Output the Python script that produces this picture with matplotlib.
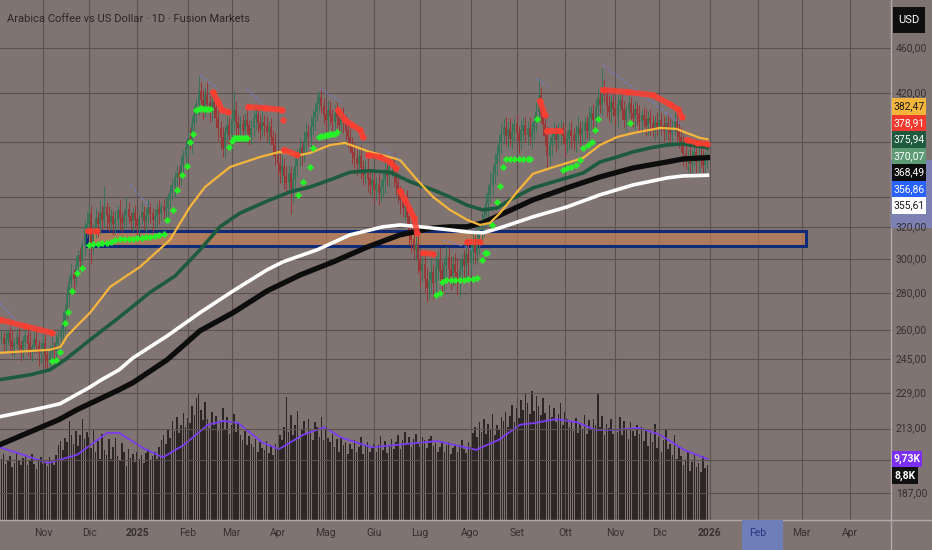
import numpy as np
import pandas as pd
import matplotlib
matplotlib.use("Agg")
import matplotlib.pyplot as plt
from matplotlib import font_manager
from matplotlib.patches import Rectangle
from matplotlib.lines import Line2D
from matplotlib.transforms import blended_transform_factory

OUTPUT = "out.png"
W, H = 932, 550
BG = "#807473"
GRID = "#5c5151"
TEXT = "#352f2f"
SEP = "#b3a9a9"

installed = {f.name for f in font_manager.fontManager.ttflist}
FONT = "Liberation Sans Narrow" if "Liberation Sans Narrow" in installed else "Roboto"
plt.rcParams["font.family"] = [FONT, "DejaVu Sans"]

TITLE = "Arabica Coffee vs US Dollar · 1D · Fusion Markets"
START = "2024-10-07"
AXIS_END = "2026-04-30"

# daily closes (USD), one per trading day from START
closes = [
    256, 253, 255, 258, 254, 251, 253, 256, 252, 250,
    254, 257, 253, 249, 251, 255, 252, 248, 250, 253,
    247, 244, 248, 251, 249, 253, 256, 259, 264, 270,
    279, 286, 291, 288, 296, 302, 299, 309, 318, 322,
    329, 310, 318, 326, 322, 329, 325, 333, 328, 323,
    327, 322, 325, 331, 326, 323, 328, 332, 327, 324,
    329, 325, 321, 326, 330, 324, 328, 333, 329, 325,
    327, 332, 329, 334, 331, 333, 339, 343, 348, 354,
    357, 354, 363, 370, 376, 383, 380, 395, 402, 410,
    421, 414, 407, 418, 411, 404, 412, 408, 399, 391,
    384, 376, 388, 393, 386, 398, 405, 396, 391, 394,
    389, 397, 393, 386, 391, 399, 402, 395, 390, 396,
    393, 388, 392, 384, 378, 370, 364, 358, 362, 355,
    350, 357, 346, 353, 362, 368, 375, 372, 381, 388,
    384, 392, 399, 404, 411, 416, 409, 402, 398, 405,
    401, 396, 403, 399, 394, 400, 396, 389, 384, 378,
    372, 368, 364, 369, 361, 356, 360, 353, 349, 352,
    345, 349, 343, 347, 352, 358, 355, 362, 364, 356,
    350, 343, 338, 333, 336, 327, 318, 312, 306, 309,
    300, 293, 297, 288, 283, 287, 292, 286, 295, 299,
    293, 288, 296, 301, 294, 290, 297, 292, 287, 294,
    299, 296, 303, 298, 305, 309, 304, 312, 318, 322,
    328, 336, 342, 349, 357, 364, 371, 380, 386, 392,
    385, 390, 383, 388, 394, 387, 381, 389, 393, 386,
    391, 384, 389, 396, 404, 418, 402, 394, 385, 370,
    378, 384, 388, 382, 386, 391, 385, 379, 383, 389,
    385, 381, 387, 392, 386, 390, 395, 389, 399, 403,
    398, 408, 415, 410, 424, 418, 409, 404, 412, 407,
    401, 410, 414, 406, 398, 405, 411, 403, 399, 406,
    402, 396, 401, 398, 393, 399, 395, 390, 396, 392,
    397, 393, 389, 395, 391, 387, 392, 396, 388, 384,
    380, 371, 366, 369, 364, 368, 372, 365, 370, 367,
    363, 368, 370.07,
]

# wick length above / below the candle body
hi_ext = [
    4, 3, 5, 2, 4, 6, 3, 4, 5, 3,
    3, 5, 4, 6, 2, 4, 5, 3, 4, 6,
    5, 3, 4, 6, 3, 5, 4, 3, 6, 4,
    5, 4, 7, 3, 6, 4, 5, 3, 6, 8,
    6, 5, 4, 7, 5, 9, 6, 15, 4, 6,
    5, 4, 6, 3, 7, 5, 4, 8, 5, 3,
    4, 6, 5, 3, 7, 4, 5, 6, 3, 4,
    5, 4, 6, 3, 5, 7, 4, 6, 5, 4,
    6, 5, 7, 4, 6, 5, 8, 6, 7, 5,
    14, 8, 9, 6, 11, 7, 6, 9, 8, 7,
    6, 8, 5, 9, 7, 6, 17, 8, 6, 7,
    8, 6, 9, 5, 7, 10, 6, 8, 7, 9,
    6, 8, 5, 7, 6, 9, 5, 7, 8, 6,
    7, 6, 5, 8, 6, 7, 9, 6, 8, 7,
    6, 9, 7, 8, 10, 6, 8, 7, 6, 9,
    8, 6, 7, 9, 5, 7, 8, 6, 9, 7,
    6, 8, 7, 5, 9, 6, 7, 8, 5, 6,
    7, 5, 8, 6, 7, 9, 6, 7, 5, 8,
    6, 7, 5, 8, 6, 9, 7, 5, 6, 8,
    7, 6, 8, 5, 7, 6, 9, 5, 7, 6,
    8, 6, 5, 7, 6, 8, 5, 7, 9, 6,
    5, 7, 6, 8, 5, 7, 6, 9, 7, 8,
    6, 8, 7, 9, 6, 8, 7, 6, 9, 7,
    8, 6, 9, 7, 5, 8, 6, 9, 7, 8,
    6, 9, 7, 5, 8, 15, 7, 9, 6, 8,
    7, 5, 8, 6, 9, 7, 5, 8, 6, 7,
    8, 6, 7, 9, 5, 8, 6, 7, 9, 6,
    8, 7, 9, 6, 18, 8, 7, 9, 6, 8,
    7, 9, 6, 8, 7, 5, 9, 6, 8, 7,
    6, 8, 5, 7, 9, 6, 8, 7, 5, 8,
    7, 6, 8, 5, 7, 9, 6, 8, 7, 9,
    8, 6, 7, 5, 9, 6, 8, 7, 6, 8,
    7, 5, 6,
]
lo_ext = [
    3, 5, 4, 3, 6, 4, 5, 3, 4, 6,
    5, 3, 6, 4, 5, 3, 4, 6, 5, 3,
    6, 4, 3, 5, 4, 6, 3, 5, 4, 6,
    4, 6, 5, 7, 4, 6, 5, 4, 7, 5,
    6, 13, 7, 5, 8, 6, 7, 5, 9, 6,
    5, 7, 6, 4, 8, 6, 5, 7, 4, 6,
    7, 5, 6, 8, 4, 6, 7, 5, 6, 8,
    5, 6, 7, 4, 6, 5, 7, 6, 5, 8,
    6, 7, 5, 8, 6, 7, 5, 8, 6, 7,
    8, 6, 9, 7, 6, 8, 7, 9, 8, 10,
    9, 7, 8, 6, 9, 7, 8, 10, 7, 8,
    7, 9, 6, 8, 7, 6, 9, 7, 8, 6,
    8, 7, 9, 6, 8, 7, 9, 8, 7, 9,
    8, 7, 17, 9, 7, 8, 6, 9, 7, 8,
    7, 8, 6, 9, 7, 8, 6, 7, 9, 8,
    7, 9, 6, 8, 7, 6, 9, 7, 8, 6,
    8, 7, 9, 6, 8, 7, 6, 9, 7, 8,
    9, 7, 8, 6, 7, 9, 6, 8, 7, 9,
    8, 7, 9, 6, 8, 7, 9, 8, 6, 7,
    8, 9, 6, 7, 8, 6, 7, 9, 8, 7,
    7, 8, 6, 9, 7, 8, 6, 7, 8, 9,
    6, 8, 7, 9, 6, 8, 7, 6, 9, 7,
    8, 7, 9, 6, 8, 7, 9, 6, 8, 7,
    7, 9, 6, 8, 7, 6, 9, 7, 8, 6,
    8, 6, 9, 7, 8, 6, 7, 9, 8, 10,
    7, 8, 6, 9, 7, 8, 6, 9, 7, 8,
    9, 7, 8, 6, 9, 7, 8, 6, 7, 9,
    8, 6, 9, 7, 8, 6, 9, 7, 8, 6,
    7, 9, 6, 8, 7, 9, 6, 8, 7, 9,
    8, 7, 9, 6, 8, 7, 9, 6, 8, 7,
    9, 7, 8, 6, 9, 7, 8, 6, 9, 8,
    7, 9, 6, 8, 7, 9, 6, 8, 7, 6,
    8, 6, 7,
]

# daily volume, thousands of contracts
volume_k = [
    9.8, 10.5, 8.9, 9.6, 10.2, 8.4, 9.1, 10.8, 9.5, 8.7,
    9.9, 10.3, 8.8, 9.4, 10.6, 9.0, 8.2, 9.7, 10.1, 8.9,
    9.3, 8.6, 10.0, 9.5, 8.8, 10.4, 11.9, 12.6, 11.2, 13.1,
    12.4, 15.8, 13.6, 12.1, 14.2, 11.8, 13.5, 16.2, 12.9, 14.0,
    13.2, 11.5, 14.4, 10.8, 12.6, 9.7, 13.8, 11.2, 10.4, 12.9,
    9.8, 11.6, 13.1, 10.2, 9.5, 12.3, 10.9, 8.6, 11.4, 9.9,
    10.6, 9.2, 10.8, 9.8, 10.4, 9.1, 10.7, 11.3, 9.6, 10.2,
    10.9, 9.8, 11.6, 12.8, 13.5, 12.2, 14.6, 13.1, 15.8, 14.2,
    16.4, 13.9, 15.2, 17.1, 14.8, 16.3, 15.5, 18.2, 16.8, 19.4,
    20.3, 17.6, 15.9, 18.8, 16.2, 14.7, 17.3, 15.1, 16.6, 14.2,
    15.8, 17.9, 14.6, 16.4, 13.8, 15.2, 16.9, 14.1, 15.5, 13.6,
    12.8, 14.2, 11.9, 13.4, 12.2, 11.6, 12.9, 10.8, 12.4, 11.5,
    11.2, 12.6, 10.7, 11.9, 10.4, 12.1, 11.3, 13.6, 12.8, 14.9,
    19.6, 14.1, 16.8, 13.5, 15.2, 17.4, 12.9, 14.6, 15.8, 13.7,
    16.1, 14.3, 12.8, 15.6, 14.9, 13.2, 16.4, 12.7, 14.5, 13.1,
    12.4, 13.8, 11.6, 12.9, 10.8, 13.1, 11.9, 12.5, 10.6, 12.2,
    11.4, 12.8, 10.9, 11.7, 13.2, 10.5, 11.8, 12.4, 10.9, 11.6,
    12.1, 10.8, 11.9, 13.4, 11.2, 12.6, 10.7, 11.8, 12.9, 11.3,
    12.5, 13.6, 11.4, 12.8, 14.1, 12.2, 13.3, 11.7, 12.9, 13.8,
    12.4, 11.6, 13.2, 12.7, 11.5, 12.9, 13.4, 11.8, 12.3, 10.9,
    11.7, 12.6, 10.8, 11.9, 12.4, 10.6, 11.5, 12.2, 10.9, 11.8,
    12.8, 11.3, 10.7, 12.5, 11.6, 13.9, 14.8, 13.2, 15.6, 14.1,
    16.2, 13.8, 15.4, 14.6, 16.9, 13.5, 15.1, 14.3, 16.5, 15.8,
    17.2, 14.9, 16.6, 18.4, 15.7, 17.8, 16.3, 19.2, 17.5, 20.1,
    18.6, 16.9, 20.6, 17.4, 19.8, 18.2, 16.7, 19.5, 17.1, 15.9,
    18.3, 16.4, 17.8, 15.6, 16.9, 18.7, 15.2, 17.3, 16.1, 14.8,
    15.7, 14.2, 16.3, 13.9, 15.4, 14.6, 16.8, 13.7, 15.9, 14.4,
    16.2, 15.1, 20.2, 14.8, 16.6, 13.5, 15.3, 14.7, 16.1, 13.8,
    15.2, 14.1, 16.4, 13.6, 15.8, 14.3, 12.9, 15.6, 14.2, 13.4,
    15.1, 13.7, 14.8, 12.6, 14.3, 11.8, 13.9, 12.4, 15.3, 11.5,
    13.2, 10.9, 12.7, 14.6, 11.3, 12.1, 10.4, 13.5, 9.8, 11.6,
    10.2, 8.7, 9.6, 10.8, 7.9, 9.3, 10.5, 8.4, 9.1, 7.6,
    10.2, 8.3, 8.8,
]

# moving averages, read at a few bars each
ema_fast_bars = [-0.6, 22, 27, 30, 35.9, 40.5, 49.6, 63.3, 76.9, 86, 92.9, 104.3, 118, 127,
                 136.2, 140.8, 149.9, 156.7, 168.1, 181.8, 189.6, 196.9, 204.6, 212.4, 218.3,
                 222.8, 227.4, 235.2, 242.4, 250.2, 257.9, 265.3, 273, 280.8, 288.1, 300.4,
                 308.1, 312.7, 318.6, 322]
ema_fast = [248.3, 249.8, 251.3, 256.9, 263.9, 269.3, 283.7, 295.5, 312, 333.5, 347.3, 361.6,
            369, 372.8, 370.5, 372, 378, 379.6, 372.8, 366.8, 352.3, 340.3, 331.5, 324.9, 321.6,
            322.9, 329.4, 343.8, 356.6, 360.7, 364.5, 368.3, 378, 384.2, 387.3, 391.3, 390.5,
            387.3, 383.5, 382.47]
ema_mid_bars = [-0.6, 13.1, 22.2, 29, 40.5, 54.1, 67.8, 79.2, 90.6, 99.7, 108.8, 122.5, 131.6,
                140.8, 149.9, 159, 168.1, 177.2, 186.4, 196.9, 204.6, 212.4, 219.6, 226, 232,
                242.4, 250.2, 257.9, 265.3, 273, 280.8, 288.1, 295.8, 303.6, 310.8, 322]
ema_mid = [235.2, 237.5, 239.9, 244.8, 254.9, 267.1, 280.6, 290, 305.8, 320.4, 329.4, 338.3,
           343.8, 347.3, 352.3, 357.8, 358.8, 357.8, 351, 345.2, 340.3, 334.7, 331.5, 332.8,
           338.3, 346.6, 350.2, 353.7, 357.2, 365.3, 369, 372.8, 375.8, 378.1, 378.9, 375.94]
ma_slow_bars = [-0.6, 19, 26.8, 40, 45, 53.7, 60.1, 75.6, 90.6, 105.7, 121.2, 128.5, 144, 159,
                174.1, 181.8, 190.9, 204.6, 212.4, 219.6, 227.4, 242.4, 250.2, 257.9, 273, 288.1,
                303.6, 310.8, 322]
ma_slow = [218.2, 222.2, 224, 231.4, 234.7, 239.9, 245.8, 256.9, 269.3, 281.4, 293.7, 298.5,
           305.8, 315.2, 320.4, 321.6, 320.4, 318.4, 317.1, 316.5, 319.7, 326.9, 330.2, 333.5,
           341.8, 348.7, 353.7, 355.1, 355.61]
ma_long_bars = [-0.6, 26.3, 34.5, 53.7, 60.1, 75.6, 90.6, 105.7, 121.2, 136.2, 151.3, 166.8,
                181.8, 196.9, 204.6, 212.4, 219.6, 227.4, 242.4, 257.9, 273, 288.1, 303.6, 310.8, 322]
ma_long = [206.2, 216.9, 221.3, 230.4, 233.8, 244.8, 259.6, 269.3, 281.4, 290.6, 298.4, 307.5,
           315.2, 319.7, 320.4, 320.4, 323, 328.1, 338.3, 346.6, 354.4, 360.9, 365.3, 367.5, 368.49]

vol_ma_bars = [-0.6, 21.3, 34.5, 48.2, 53.7, 64.6, 73.7, 83.3, 94.2, 101.1, 107.9, 118.9, 126.6,
               137.6, 147.2, 155.4, 169, 183.6, 198.7, 216.5, 226.9, 236.5, 243.4, 252.9, 262.5,
               270.7, 281.2, 290.8, 300.4, 311.3, 322]
vol_ma_k = [11.6, 9.1, 10.4, 13.9, 13.9, 11.5, 10.0, 12.0, 15.2, 15.8, 15.5, 12.4, 11.3, 13.6,
            14.8, 13.1, 11.6, 12.1, 12.6, 11.2, 12.8, 15.2, 15.5, 16.1, 15.6, 14.4, 14.4, 14.7,
            13.6, 11.2, 9.73]

# trailing stop above price (nan = break between runs)
nan = float("nan")
stop_up_bars = [-0.6, 11, 23, nan, 39.5, 43.5, nan, 96.5, 98.8, 100.6, 103.4, nan,
                112.5, 120.2, 128, nan, 128.5, nan, 129, 134.8, nan,
                153.5, 156.7, 159.9, 163.6, 164.9, nan, 167.2, 172.7, 177.2, 179.9, nan,
                181.8, 184.1, 186.4, 188.2, 189.6, nan, 192.3, 196.9, nan, 212.4, 218.3, nan,
                245.6, 247.9, nan, 248.8, 254.8, nan,
                274.4, 285.3, 297.2, 304.9, 308.6, 310.4, nan, 312.7, 317.2, 322]
stop_up = [265.5, 262, 258.6, nan, 317.5, 317.5, nan, 420.6, 412.5, 405.8, 404.2, nan,
           408.2, 407.4, 405.8, nan, 397.7, nan, 374.3, 370.5, nan,
           405.8, 397.7, 393.8, 389.7, 384.3, nan, 370.5, 369, 365.3, 360.9, nan,
           344.5, 338.3, 331.5, 326.2, 316.5, nan, 303.9, 303.3, nan, 310.7, 310.7, nan,
           413.2, 401.7, nan, 388.9, 388.9, nan,
           422.6, 420.8, 418.2, 410.4, 406.2, 399.8, nan, 382, 379.6, 378.91]

# trailing stop below price (crosses)
stop_dn_bars = [23.1, 24.9, 26.8, 29, 30.4, 32.2, 34.5, 36.8,
                40, 42, 44, 46, 48, 50, 52, 54, 56, 58, 60, 62, 64, 66, 68, 70, 72, 74,
                75.6, 78.3, 80.1, 82.4, 84.7, 86, 87.4,
                89, 90, 91, 92, 93, 94, 95,
                104, 105, 106, 107, 108, 109, 110, 111, 112,
                135.3, 137.6, 140.8, 142.1,
                145, 146, 147, 148, 149, 150, 151, 152, 153,
                198, 200, 201, 203, 205, 207, 209, 211, 213, 215, 217,
                219.2, 220.6, 221.5, 223.8, 226, 227.4, 228.8,
                230, 232, 234, 236, 238, 240, 241, 244.3,
                256, 258, 260, 262, 263.9, 265.3, 267.5, 269.4, 270.7, 272.1, 286.7]
stop_dn = [244.3, 244.8, 248.8, 263.9, 269.8, 281.4, 292, 294.9,
           309, 309.4, 309.4, 309.8, 310, 310.8, 312, 312.3, 312.6, 312.6, 312.6, 313, 313.3,
           313.6, 313.9, 314.3, 315, 316,
           324.9, 331.5, 345.2, 355.8, 362.3, 380.4, 386.6,
           405.8, 407, 407.2, 406.8, 406.6, 406.6, 406.6,
           376.6, 381, 383.5, 383.5, 383.5, 383.5, 383.5, 383.5, 383.5,
           341.8, 350.9, 361.6, 375.8,
           384.3, 384.7, 385.1, 385.5, 385.9, 386.2, 386.4, 386.6, 388,
           279, 280, 286.7, 287.8, 287.8, 287.8, 287.8, 287.8, 288, 288.4, 289,
           299.7, 303.9, 303.9, 321.6, 336.9, 348, 361.6,
           367.5, 367.5, 367.5, 367.5, 367.5, 367.5, 367.5, 398.5,
           359.5, 360.7, 361.6, 362.9, 366.8, 375.8, 378, 380.4, 389.7, 398.5, 395.3]

# thin blue trailing line off the swing highs
trail_bars = [-0.6, 7.2, nan, 58.7, 67.8, nan, 90.6, 98.8, nan, 112, 119.8, nan,
              145.3, 155.8, nan, 174.1, 183.2, nan, 201.4, 216, nan, 244.3, 249.3, nan,
              274.4, 310.9]
trail = [274.7, 264.4, nan, 348.7, 333.5, nan, 435.6, 423.5, nan, 423.5, 410, nan,
         423.5, 411.6, nan, 375, 366, nan, 312, 305.8, nan, 432.3, 425.6, nan,
         444.4, 393]

# support zone drawn on the chart
zone_low, zone_high = 308.2, 317.7
zone_start, zone_end = "2024-11-29", "2026-03-04"

price_ticks = [460, 420, 380, 340, 320, 300, 280, 260, 245, 229, 213, 200, 187]
month_starts = ["2024-11-01", "2024-12-01", "2025-01-01", "2025-02-01", "2025-03-01",
                "2025-04-01", "2025-05-01", "2025-06-01", "2025-07-01", "2025-08-01",
                "2025-09-01", "2025-10-01", "2025-11-01", "2025-12-01", "2026-01-01",
                "2026-02-01", "2026-03-01", "2026-04-01"]
month_labels = ["Nov", "Dic", "2025", "Feb", "Mar", "Apr", "Mag", "Giu", "Lug", "Ago",
                "Set", "Ott", "Nov", "Dic", "2026", "Feb", "Mar", "Apr"]

last_values = [382.47, 378.91, 375.94, 370.07, 368.49, 356.86, 355.61]
last_fill = ["#f5b53a", "#f2392d", "#1e5a3d", "#5d9b74", "#0d0d0d", "#2962ff", "#ffffff"]
last_ink = ["#1a1a1a", "#ffffff", "#ffffff", "#ffffff", "#ffffff", "#ffffff", "#1a1a1a"]
vol_last_ma, vol_last = 9.73, 8.8


def fmt(v):
    return f"{v:.2f}".replace(".", ",")


dates = pd.bdate_range(START, AXIS_END)
idx = np.arange(len(closes))
c = np.array(closes, dtype=float)
o = np.r_[c[0], c[:-1]]
hi = np.maximum(o, c) + np.array(hi_ext)
lo = np.minimum(o, c) - np.array(lo_ext)
up = c >= o
candle_col = np.where(up, "#367557", "#9a3535")

fig = plt.figure(figsize=(W / 100, H / 100), dpi=100, facecolor=BG)
rect = [0, 30 / H, 891 / W, 520 / H]
vax = fig.add_axes(rect, facecolor=BG)
ax = fig.add_axes(rect, sharex=vax)
ax.patch.set_visible(False)

# volume layer
vax.bar(idx, np.array(volume_k) * 1000, width=0.72, color="#2d2626", linewidth=0)
vax.plot(vol_ma_bars, np.array(vol_ma_k) * 1000, color="#7b3df0", lw=1.3)
vax.set_ylim(0, 83000)
vax.set_xlim(-0.6, 405.7)

# price layer
ax.set_yscale("log")
ax.set_ylim(177.05, 506.9)
ax.set_yticks(price_ticks)
ax.yaxis.set_minor_locator(plt.NullLocator())
month_idx = [int(dates.searchsorted(pd.Timestamp(m))) for m in month_starts]
ax.set_xticks(month_idx)
ax.grid(True, color=GRID, lw=0.8)
ax.set_axisbelow(True)
for a in (ax, vax):
    a.tick_params(length=0, labelbottom=False, labelleft=False, labelright=False)
    for s in a.spines.values():
        s.set_visible(False)

z0 = dates.searchsorted(pd.Timestamp(zone_start))
z1 = dates.searchsorted(pd.Timestamp(zone_end))
ax.add_patch(Rectangle((z0, zone_low), z1 - z0, zone_high - zone_low,
                       fc="#cc8350", alpha=0.6, ec="none", zorder=1.5))
ax.add_patch(Rectangle((z0, zone_low), z1 - z0, zone_high - zone_low,
                       fill=False, ec="#0f2b78", lw=2.2, zorder=1.6))

ax.vlines(idx, lo, hi, colors=candle_col, lw=0.7, zorder=3)
ax.vlines(idx, np.minimum(o, c), np.maximum(o, c) + 0.4, colors=candle_col, lw=1.3, zorder=3)

ax.plot(ma_long_bars, ma_long, color="#0d0d0d", lw=3.8, zorder=4)
ax.plot(ma_slow_bars, ma_slow, color="#ffffff", lw=2.6, zorder=4)
ax.plot(ema_mid_bars, ema_mid, color="#1e5a3d", lw=2.6, zorder=4)
ax.plot(ema_fast_bars, ema_fast, color="#f5b53a", lw=1.6, zorder=5)
ax.plot(trail_bars, trail, color="#6f7fe0", lw=0.8, ls=(0, (3, 2)), alpha=0.8, zorder=5)
ax.plot(stop_up_bars, stop_up, color="#ff3d30", lw=4.2, alpha=0.85,
        marker="o", ms=3.5, solid_capstyle="round", zorder=6)
ax.plot(stop_dn_bars, stop_dn, ls="none", marker="+", ms=5, mew=2,
        color="#27f227", zorder=6)

# axis chrome
fig.add_artist(Line2D([891 / W] * 2, [0, 1], transform=fig.transFigure, color=SEP, lw=1, zorder=4))
fig.add_artist(Line2D([0, 1], [30 / H] * 2, transform=fig.transFigure, color=SEP, lw=1, zorder=4))

time_tf = blended_transform_factory(ax.transData, fig.transFigure)
fig.add_artist(Rectangle((337.8, 0), 18.6, 30 / H, transform=time_tf,
                         fc="#6f7db8", ec="none", zorder=5))
for i, lab in zip(month_idx, month_labels):
    bold = lab.isdigit()
    col = "#26357f" if (lab == "Feb" and i > 330) else TEXT
    fig.text(i, 1 - 533 / H, lab, transform=time_tf, ha="center", va="center",
             fontsize=7.5, color=col, fontweight="bold" if bold else "normal", zorder=6)

# last value badges, stacked like the platform does
box_h = 16.5
ys = [ax.transData.transform((0, v))[1] for v in last_values]
mid = np.mean(ys)
badges = []
for k, (v, fc, ink) in enumerate(zip(last_values, last_fill, last_ink)):
    badges.append((mid + (3 - k) * box_h, 34, fc, ink, fmt(v), "normal"))
yv = vax.transData.transform((0, vol_last_ma * 1000))[1]
badges.append((yv, 30, "#7b2ff2", "white", f"{vol_last_ma:.2f}K".replace(".", ","), "bold"))
badges.append((yv - box_h, 26, "#101010", "white", f"{vol_last:.1f}K".replace(".", ","), "bold"))

for yc, w, fc, ink, s, weight in badges:
    fig.add_artist(Rectangle((892 / W, (yc - box_h / 2) / H), w / W, box_h / H,
                             transform=fig.transFigure, fc=fc, ec="none", zorder=10))
    fig.text((892 + w / 2) / W, yc / H, s, ha="center", va="center", fontsize=7.5,
             color=ink, fontweight=weight, zorder=11)

# price scale: ticks covered by a badge are not shown, as on the platform
price_tf = blended_transform_factory(fig.transFigure, ax.transData)
fig.add_artist(Rectangle((891 / W, 319.7), 41 / W, 366.8 - 319.7, transform=price_tf,
                         fc="#7c80b2", ec="none", zorder=5))
for v in price_ticks:
    yp = ax.transData.transform((0, v))[1]
    if any(abs(yp - b[0]) < box_h / 2 + 5 for b in badges):
        continue
    fig.text(896 / W, v, fmt(v), transform=price_tf, ha="left", va="center",
             fontsize=7.5, color=TEXT, zorder=6)

fig.add_artist(Rectangle((893 / W, 1 - 33 / H), 32 / W, 26 / H, transform=fig.transFigure,
                         fc="#0f0f0f", ec="none", zorder=10))
fig.text(909 / W, 1 - 20 / H, "USD", ha="center", va="center", fontsize=8,
         color="white", zorder=11)

fig.text(7 / W, 1 - 19 / H, TITLE, ha="left", va="center", fontsize=8, color="#2b2626", zorder=6)

fig.savefig(OUTPUT, dpi=100, facecolor=BG)
